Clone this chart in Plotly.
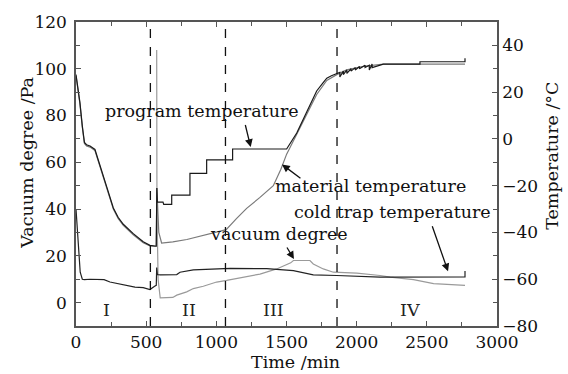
import plotly.graph_objects as go

# ---------------- data ----------------
# material temperature (°C)
mat_t = [0, 15, 28, 45, 60, 75, 100, 135, 171, 219, 266, 300, 337, 408, 479, 527, 565, 572,
         576, 590, 610, 690, 790, 930, 1070, 1145, 1216, 1311, 1406, 1460, 1501, 1573, 1644,
         1715, 1787, 1858, 1929, 2048, 2190, 2772]
mat_T = [27, 21, 15, 5, -2, -3, -3.5, -5, -11.5, -21, -30, -34, -37, -41, -44.4, -45.8, -46, -46,
         -21, -40, -44.5, -44, -43, -41, -38.8, -34, -29.7, -25, -20, -13, -6.5, 2, 10.5,
         19, 25, 27.5, 29.5, 31, 32, 32]

# program temperature (°C)
prog_t = [0, 15, 28, 45, 60, 75, 100, 135, 171, 219, 266, 300, 337, 408, 479, 527, 565, 572,
          576, 580, 620, 625, 682, 682, 812, 812, 931, 931, 1116, 1116, 1501, 1573, 1644,
          1715, 1760, 1787, 1820, 1858, 1880, 1880, 1905, 1905, 1930, 1930, 1960, 1960,
          1990, 1990, 2020, 2020, 2060, 2060, 2090, 2090, 2110, 2110, 2190, 2451, 2451,
          2772, 2772]
prog_T = [27.5, 21.5, 15.5, 5.5, -1.5, -2.5, -3, -4.5, -11, -20.5, -29.5, -33.5, -36.5, -40.5, -44, -45.5, -45.8, -45.8,
          -21, -27, -27, -28, -28, -24, -24, -14.7, -14.7, -9, -9, -4.3, -4.3, 2.5, 11.5,
          20.5, 24, 26, 27, 28, 28.5, 26.5, 29, 27.5, 29.5, 28, 30, 29, 30.5,
          29.5, 31, 30, 31.5, 30.5, 31.5, 29.5, 32, 30.5, 32, 32, 33,
          33, 34.5]

# cold trap temperature (°C)
cold_t = [0, 15, 30, 45, 60, 100, 200, 242, 300, 361, 420, 479, 527, 560, 572, 575, 580,
          600, 718, 741, 836, 1100, 1359, 1549, 1691, 1858, 2167, 2772, 2772]
cold_T = [-30, -45, -57, -60, -60.2, -60, -60.2, -61.2, -62, -62.6, -63.4, -63.6, -64.4, -63, -62.6, -55, -58,
          -58.1, -58, -57, -56, -55.4, -55.5, -56.3, -58.1, -58.4, -59.1, -59, -56.5]

# vacuum degree (Pa)
vac_t = [575, 577, 585, 600, 690, 718, 789, 836, 907, 1002, 1074, 1193, 1311, 1430, 1530,
         1549, 1667, 1691, 1762, 1834, 2001, 2167, 2239, 2405, 2548, 2772]
vac_P = [108, 40, 10, 2, 2.2, 3.2, 4.6, 6, 7, 8.8, 9.5, 10.9, 12.2, 14.4, 17,
         18, 18, 16.5, 14.4, 13, 12.6, 11.6, 10.9, 9.8, 8.1, 7.4]

phase_bounds = [530, 1065, 1860]
phase_labels = ["I", "II", "III", "IV"]
phase_label_x = [214, 806, 1405, 2380]
phase_label_y = -3

FONT = "DejaVu Serif"
FS = 17
LFS = 17.5

fig = go.Figure()
fig.add_trace(go.Scatter(x=mat_t, y=mat_T, yaxis="y2", mode="lines",
                         line=dict(color="#7a7a7a", width=1.2), name="material temperature"))
fig.add_trace(go.Scatter(x=prog_t, y=prog_T, yaxis="y2", mode="lines",
                         line=dict(color="#1a1a1a", width=1.2), name="program temperature"))
fig.add_trace(go.Scatter(x=vac_t, y=vac_P, yaxis="y", mode="lines",
                         line=dict(color="#9a9a9a", width=1.2), name="vacuum degree"))
fig.add_trace(go.Scatter(x=cold_t, y=cold_T, yaxis="y2", mode="lines",
                         line=dict(color="#222222", width=1.2), name="cold trap temperature"))

shapes = []
for xb in phase_bounds:
    shapes.append(dict(type="line", xref="x", yref="paper", x0=xb, x1=xb, y0=0, y1=1,
                       line=dict(color="#111", width=1.3, dash="dash")))

ann = []
for lab, lx in zip(phase_labels, phase_label_x):
    ann.append(dict(x=lx, y=phase_label_y, xref="x", yref="y", text=lab, showarrow=False,
                    font=dict(family=FONT, size=LFS, color="#222")))

# curve labels (x, y in left-axis units)
labels = [("program temperature", 901, 82),
          ("material temperature", 2095, 49.8),
          ("cold trap temperature", 2255, 38.9),
          ("vacuum degree", 1447, 29.2)]
for txt, lx, ly in labels:
    ann.append(dict(x=lx, y=ly, xref="x", yref="y", text=txt, showarrow=False,
                    font=dict(family=FONT, size=LFS, color="#111")))

# arrows: (tail x, tail y, head x, head y)
arrows = [(1204, 76.6, 1245, 66.5),
          (1610, 52.7, 1468, 59.1),
          (2535, 33.3, 2651, 13.4),
          (1497, 24.2, 1553, 18.6)]
for tx, ty, hx, hy in arrows:
    ann.append(dict(x=hx, y=hy, ax=tx, ay=ty, xref="x", yref="y", axref="x", ayref="y",
                    text="", showarrow=True, arrowhead=2, arrowsize=1.2, arrowwidth=1.3,
                    arrowcolor="#111", standoff=0, startstandoff=0))

# axis titles (placed in paper coordinates)
pw = 568 - 76 - 71
ph = 374 - 17 - 48
ann.append(dict(x=(295 - 76) / pw, y=(326 - 363) / ph, xref="paper", yref="paper",
                xanchor="center", yanchor="middle",
                text="Time /min", showarrow=False, font=dict(family=FONT, size=LFS, color="#111")))
ann.append(dict(x=(27 - 76) / pw, y=(326 - 160) / ph, xref="paper", yref="paper",
                xanchor="center", yanchor="middle",
                text="Vacuum degree /Pa", textangle=-90, showarrow=False,
                font=dict(family=FONT, size=LFS, color="#111")))
ann.append(dict(x=(552 - 76) / pw, y=(326 - 153) / ph, xref="paper", yref="paper",
                xanchor="center", yanchor="middle",
                text="Temperature /°C", textangle=-90, showarrow=False,
                font=dict(family=FONT, size=LFS, color="#111")))

fig.update_layout(
    width=568, height=374,
    margin=dict(l=76, r=71, t=17, b=48),
    paper_bgcolor="white", plot_bgcolor="white",
    showlegend=False,
    font=dict(family=FONT, size=FS, color="#111"),
    xaxis=dict(range=[0, 3000], tick0=0, dtick=500, ticks="inside", ticklen=5,
               tickcolor="#555", showline=True, linecolor="#555", linewidth=1.5,
               mirror="ticks", showgrid=False, zeroline=False,
               minor=dict(dtick=250, ticks="inside", ticklen=4, tickcolor="#555")),
    yaxis=dict(range=[-10, 120], tick0=0, dtick=20, ticks="inside", ticklen=5,
               tickcolor="#555", showline=True, linecolor="#555", linewidth=1.5,
               showgrid=False, zeroline=False, ticklabelstandoff=4,
               minor=dict(dtick=10, tick0=0, ticks="inside", ticklen=4, tickcolor="#555")),
    yaxis2=dict(range=[-80, 50], tick0=0, dtick=20, ticks="inside", ticklen=5,
                tickcolor="#555", showline=True, linecolor="#555", linewidth=1.5,
                overlaying="y", side="right", showgrid=False, zeroline=False,
                minor=dict(dtick=10, tick0=0, ticks="inside", ticklen=4, tickcolor="#555")),
    shapes=shapes,
    annotations=ann,
)

fig.write_html("out.html")
